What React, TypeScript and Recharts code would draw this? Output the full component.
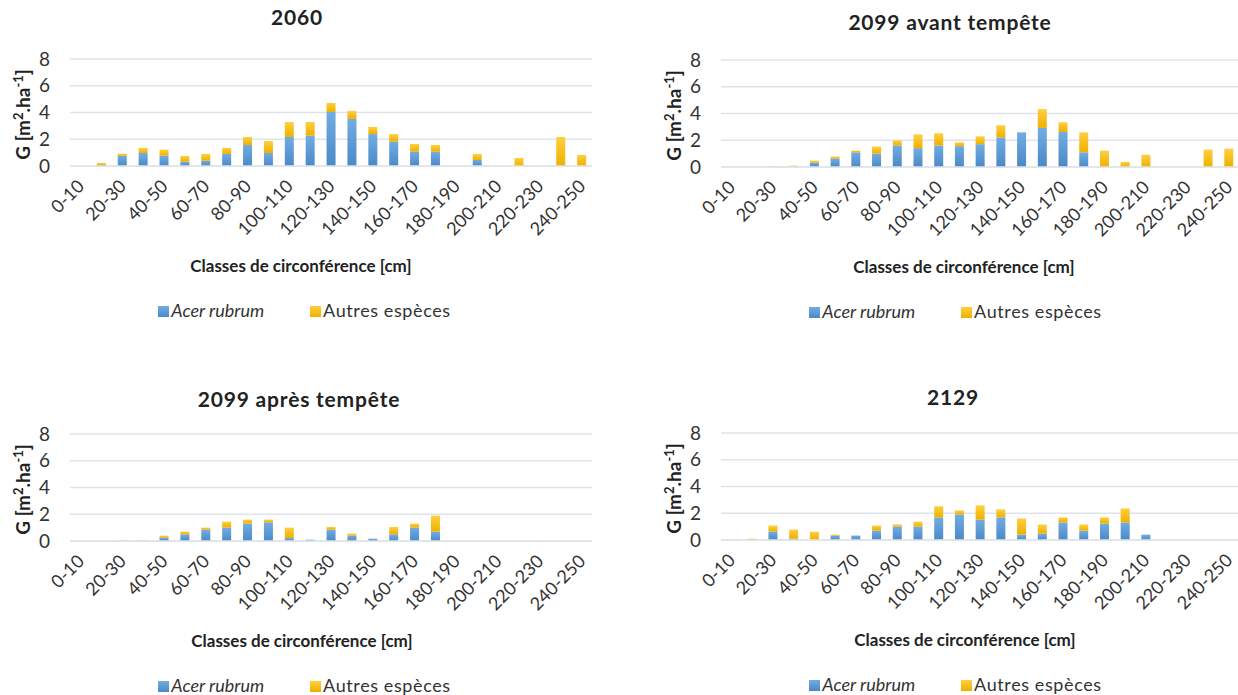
import { Bar, BarChart, CartesianGrid, Label, Legend, XAxis, YAxis } from 'recharts'

const FONT = 'Lato, "Noto Sans", sans-serif'
const GRID = '#E0E3E9'
const TEXT = '#333333'

// circumference classes (cm)
const classes = [
  '0-10', '10-20', '20-30', '30-40', '40-50', '50-60', '60-70', '70-80', '80-90', '90-100',
  '100-110', '110-120', '120-130', '130-140', '140-150', '150-160', '160-170', '170-180',
  '180-190', '190-200', '200-210', '210-220', '220-230', '230-240', '240-250',
]
const yTicks = [0, 2, 4, 6, 8]

// basal area G [m2.ha-1]
const acer2060 = [0, 0.08, 0.77, 0.97, 0.77, 0.32, 0.4, 0.9, 1.57, 0.97, 2.17, 2.27, 4.04, 3.52, 2.39, 1.82, 1.07, 1.07, 0, 0.45, 0, 0, 0, 0, 0]
const autres2060 = [0, 0.15, 0.15, 0.38, 0.45, 0.43, 0.5, 0.45, 0.6, 0.9, 1.12, 1.02, 0.67, 0.6, 0.53, 0.57, 0.58, 0.5, 0, 0.45, 0, 0.6, 0, 2.17, 0.82]

const acerAvant = [0, 0, 0.03, 0.02, 0.33, 0.63, 1.1, 1.0, 1.61, 1.41, 1.61, 1.56, 1.71, 2.21, 2.59, 2.92, 2.62, 1.1, 0, 0, 0, 0, 0, 0, 0]
const autresAvant = [0, 0, 0, 0.08, 0.15, 0.15, 0.13, 0.53, 0.38, 1.03, 0.91, 0.28, 0.58, 0.91, 0, 1.41, 0.73, 1.49, 1.22, 0.38, 0.91, 0, 0, 1.3, 1.37]

const acerApres = [0, 0, 0.03, 0.03, 0.25, 0.5, 0.85, 1.0, 1.3, 1.4, 0.22, 0.1, 0.85, 0.4, 0.17, 0.5, 1.0, 0.7, 0, 0, 0, 0, 0, 0, 0]
const autresApres = [0, 0, 0, 0, 0.15, 0.2, 0.15, 0.45, 0.3, 0.2, 0.78, 0, 0.2, 0.15, 0, 0.55, 0.3, 1.2, 0, 0, 0, 0, 0, 0, 0]

const acer2129 = [0, 0.03, 0.63, 0.1, 0.02, 0.33, 0.33, 0.7, 1.0, 1.0, 1.69, 1.91, 1.53, 1.69, 0.4, 0.48, 1.31, 0.7, 1.23, 1.31, 0.4, 0, 0, 0, 0]
const autres2129 = [0, 0.07, 0.45, 0.68, 0.6, 0.07, 0, 0.38, 0.16, 0.38, 0.83, 0.3, 1.06, 0.6, 1.21, 0.68, 0.38, 0.46, 0.46, 1.05, 0, 0, 0, 0, 0]

const BLUE_TOP = '#72ACE2'
const BLUE_BOTTOM = '#4A89C8'
const GOLD_TOP = '#FFCF40'
const GOLD_BOTTOM = '#EEB000'

const ClassTick = ({ x, y, payload }: any) => (
  <g transform={`translate(${x},${y})`}>
    <text
      x={0}
      y={0}
      dx={-6}
      dy={13}
      textAnchor="end"
      transform="rotate(-45)"
      fontSize={18}
      fontFamily={FONT}
      fill={TEXT}
    >
      {payload.value}
    </text>
  </g>
)

const YTitle = ({ viewBox }: any) => {
  const cx = 30
  const cy = viewBox.y + viewBox.height / 2 + 2
  return (
    <text
      x={cx}
      y={cy}
      transform={`rotate(-90, ${cx}, ${cy})`}
      textAnchor="middle"
      fontFamily={FONT}
      fontWeight="bold"
      fontSize={19}
      fill="#222"
    >
      G [m<tspan dy={-7} fontSize={13}>2</tspan>
      <tspan dy={7}>.ha</tspan>
      <tspan dy={-7} fontSize={13}>-1</tspan>
      <tspan dy={7}>]</tspan>
    </text>
  )
}

const XTitle = ({ cx }: { cx: number }) => (
  <text x={cx} y={272} textAnchor="middle" fontFamily={FONT} fontWeight="bold" fontSize={17} fill="#222">
    Classes de circonférence [cm]
  </text>
)

const LegendBox = () => (
  <div
    style={{
      display: 'flex',
      justifyContent: 'center',
      alignItems: 'center',
      height: 20,
      paddingRight: 42,
      fontFamily: FONT,
      fontSize: 18,
      color: TEXT,
    }}
  >
    <span style={{ width: 11, height: 11, marginTop: 3, background: `linear-gradient(${BLUE_TOP}, ${BLUE_BOTTOM})`, marginRight: 2 }} />
    <span style={{ fontStyle: 'italic' }}>Acer rubrum</span>
    <span style={{ width: 11, height: 11, marginTop: 3, background: `linear-gradient(${GOLD_TOP}, ${GOLD_BOTTOM})`, marginLeft: 46, marginRight: 2 }} />
    <span style={{ letterSpacing: 0.6 }}>Autres espèces</span>
  </div>
)

interface PanelProps {
  id: string
  title: string
  titleY: number
  titleX: number
  axisTitleX: number
  rightMargin: number
  acer: number[]
  autres: number[]
  left: number
  top: number
}

const Panel = ({ id, title, titleY, titleX, axisTitleX, rightMargin, acer, autres, left, top }: PanelProps) => {
  const data = classes.map((c, i) => ({ classe: c, acer: acer[i], autres: autres[i] }))
  return (
    <div style={{ position: 'absolute', left, top, width: 651, height: 375 }}>
      <div
        style={{
          position: 'absolute',
          left: titleX - 200,
          width: 400,
          top: titleY - 13,
          textAlign: 'center',
          fontFamily: FONT,
          fontWeight: 'bold',
          fontSize: 21,
          letterSpacing: 0.8,
          lineHeight: '26px',
          color: '#222',
        }}
      >
        {title}
      </div>
      <BarChart
        width={651}
        height={375}
        data={data}
        margin={{ top: 59, right: rightMargin, left: 0, bottom: 55 }}
      >
        <defs>
          <linearGradient id={`blue-${id}`} x1="0" y1="0" x2="0" y2="1">
            <stop offset="0%" stopColor={BLUE_TOP} />
            <stop offset="100%" stopColor={BLUE_BOTTOM} />
          </linearGradient>
          <linearGradient id={`gold-${id}`} x1="0" y1="0" x2="0" y2="1">
            <stop offset="0%" stopColor={GOLD_TOP} />
            <stop offset="100%" stopColor={GOLD_BOTTOM} />
          </linearGradient>
        </defs>
        <CartesianGrid vertical={false} stroke={GRID} strokeWidth={1.5} />
        <XAxis
          dataKey="classe"
          interval={1}
          tickLine={false}
          axisLine={{ stroke: GRID, strokeWidth: 1.5 }}
          tick={<ClassTick />}
          height={134}
        >
          <Label content={<XTitle cx={axisTitleX} />} />
        </XAxis>
        <YAxis
          domain={[0, 8]}
          ticks={yTicks}
          interval={0}
          width={70}
          axisLine={false}
          tickLine={false}
          tickSize={6}
          tickMargin={14}
          tick={{ fontSize: 19, fontFamily: FONT, fill: TEXT }}
        >
          <Label content={<YTitle />} />
        </YAxis>
        <Bar dataKey="acer" stackId="g" fill={`url(#blue-${id})`} barSize={9} isAnimationActive={false} />
        <Bar dataKey="autres" stackId="g" fill={`url(#gold-${id})`} barSize={9} isAnimationActive={false} />
        <Legend verticalAlign="bottom" wrapperStyle={{ left: 0, width: 651 }} content={<LegendBox />} />
      </BarChart>
    </div>
  )
}

export default function App() {
  return (
    <div
      style={{
        position: 'absolute',
        left: 0,
        top: 0,
        width: 1238,
        height: 695,
        overflow: 'hidden',
        background: '#fff',
      }}
    >
      <Panel id="a" title="2060" titleY={17} titleX={297} axisTitleX={301} rightMargin={59} acer={acer2060} autres={autres2060} left={0} top={0} />
      <Panel id="b" title="2099 avant tempête" titleY={21} titleX={299} axisTitleX={313} rightMargin={63} acer={acerAvant} autres={autresAvant} left={651} top={1} />
      <Panel id="c" title="2099 après tempête" titleY={24} titleX={299} axisTitleX={302} rightMargin={59} acer={acerApres} autres={autresApres} left={0} top={375} />
      <Panel id="d" title="2129" titleY={23} titleX={302} axisTitleX={314} rightMargin={63} acer={acer2129} autres={autres2129} left={651} top={374} />
    </div>
  )
}
